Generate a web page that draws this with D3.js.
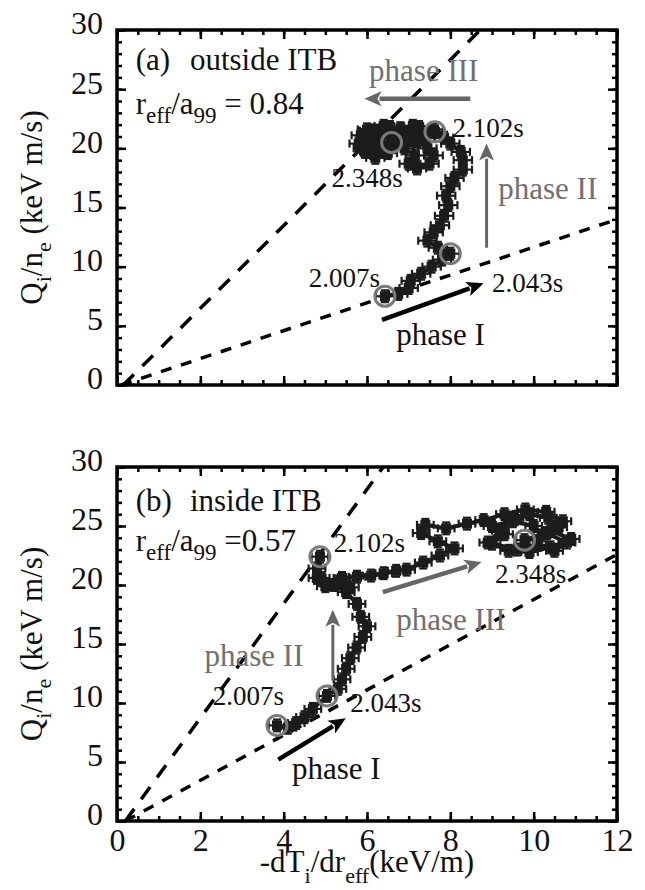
<!DOCTYPE html>
<html>
<head>
<meta charset="utf-8">
<script src="https://cdn.jsdelivr.net/npm/d3@7"></script>
<style>
body { margin: 0; background: #fff; }
text { font-family: "Liberation Serif", "DejaVu Serif", serif; fill: #111; }
</style>
</head>
<body>
<div class="chart"></div>
<script>
var xTicks = [0, 2, 4, 6, 8, 10, 12];
var yTicks = [0, 5, 10, 15, 20, 25, 30];

// panel (a) outside ITB, trajectory in time order
var aGradT = [6.43, 6.75, 7.0, 7.05, 7.3, 7.55, 7.8, 8.0,
  7.7, 7.45, 7.6, 7.75, 7.85, 7.95, 7.9, 8.0, 8.1, 8.3, 8.3, 8.25, 8.0, 7.85, 7.63,
  7.4, 7.2, 7.45, 7.6, 7.5, 7.2, 7.0, 7.15, 6.9, 6.6, 6.3, 6.0, 5.8, 5.95, 6.2, 6.5,
  6.3, 6.0, 6.4, 6.8, 7.1, 7.3, 7.0, 6.75, 6.4, 6.1, 5.85, 6.05, 6.35, 6.7, 7.05, 7.4,
  7.6, 7.25, 6.95, 6.55, 6.2, 5.9, 6.15, 6.45, 6.59];
var aFlux = [7.5, 7.7, 8.2, 8.8, 9.4, 10.0, 10.6, 11.1,
  11.6, 12.2, 12.9, 13.5, 14.3, 15.2, 16.0, 16.8, 17.5, 18.2, 19.0, 19.7, 20.4, 20.9, 21.4,
  21.1, 20.6, 20.0, 19.4, 18.7, 18.3, 18.7, 19.4, 20.0, 20.9, 21.3, 21.0, 20.4, 19.7, 19.2, 19.6,
  20.3, 21.6, 21.9, 21.7, 21.9, 21.4, 21.1, 20.6, 20.1, 20.4, 21.1, 21.5, 21.2, 21.0, 20.7, 20.9,
  21.6, 21.8, 21.3, 21.8, 21.5, 20.0, 19.6, 20.0, 20.5];
var aErrT = 0.22, aErrQ = 0.5;
var aTimes = ["2.007s", "2.043s", "2.102s", "2.348s"];
var aTimeGradT = [6.43, 8.0, 7.63, 6.59];
var aTimeFlux = [7.5, 11.1, 21.4, 20.5];
var aGuides = [[[0.15, 0], [8.72, 30]], [[0.1, 0], [12, 14]]];

// panel (b) inside ITB
var bGradT = [3.84, 4.1, 4.3, 4.5, 4.7, 5.04,
  5.3, 5.4, 5.5, 5.6, 5.75, 5.9, 6.0, 5.85, 5.76, 5.5, 5.2, 4.9, 4.8, 4.87,
  4.8, 5.0, 5.3, 5.6, 5.4, 5.76, 6.1, 6.4, 6.7, 6.95, 7.35, 7.75, 8.1, 7.7, 7.3, 7.4,
  7.9, 8.4, 8.8, 9.3, 9.8, 10.3, 10.7, 10.4, 10.9, 10.4, 9.9, 9.4, 9.0, 9.3, 9.0, 9.5,
  10.0, 10.2, 10.6, 10.35, 9.9, 9.55, 9.2, 8.9, 9.6, 10.1, 10.5, 10.8, 10.3, 9.78];
var bFlux = [8.1, 7.9, 8.3, 8.8, 9.5, 10.6,
  11.2, 12.0, 12.9, 13.8, 14.7, 15.6, 16.5, 17.3, 18.4, 19.4, 20.0, 20.6, 21.4, 22.4,
  20.6, 19.9, 20.3, 19.8, 20.6, 20.7, 20.8, 21.0, 21.2, 21.3, 21.9, 22.5, 23.1, 23.7, 24.4, 25.1,
  24.8, 25.2, 25.5, 26.0, 26.4, 26.2, 25.4, 24.6, 23.9, 23.2, 22.8, 22.9, 23.5, 24.3, 25.0, 25.4,
  25.0, 24.2, 24.9, 25.7, 26.0, 25.6, 24.6, 23.6, 23.0, 23.4, 22.9, 23.6, 24.4, 23.8];
var bErrT = 0.2, bErrQ = 0.5;
var bTimes = ["2.007s", "2.043s", "2.102s", "2.348s"];
var bTimeGradT = [3.84, 5.04, 4.87, 9.78];
var bTimeFlux = [8.1, 10.6, 22.4, 23.8];
var bGuides = [[[0.2, 0], [6.39, 30]], [[0.2, 0], [12, 22.6]]];

var W = 645, H = 890;
var svg = d3.select(".chart").append("svg").attr("width", W).attr("height", H);

var xS = d3.scaleLinear().domain([0, 12]).range([117, 617]);

var panels = [
  { top: 30, bottom: 385, gx: aGradT, gy: aFlux, ex: aErrT, ey: aErrQ,
    times: aTimes, tx: aTimeGradT, ty: aTimeFlux, guides: aGuides, xLabels: false,
    timePos: [[4.6, 8.3], [9.0, 7.85], [8.05, 21.0], [5.15, 16.7]],
    tag: "(a)", where: "outside ITB", ratio: " = 0.84",
    tagPos: [0.45, 26.6], wherePos: [1.75, 26.6], ratioPos: [0.45, 22.9],
    arrows: [
      { from: [6.36, 5.5], to: [8.8, 8.6], color: "#000", w: 4.5 },
      { from: [8.87, 11.6], to: [8.87, 20.4], color: "#666", w: 3 },
      { from: [8.48, 24.2], to: [5.94, 24.2], color: "#666", w: 4.5 }
    ],
    phases: [
      { t: "phase I", at: [6.7, 3.4], color: "#111" },
      { t: "phase II", at: [9.15, 15.7], color: "#707070" },
      { t: "phase III", at: [6.05, 25.7], color: "#707070" }
    ] },
  { top: 467, bottom: 821, gx: bGradT, gy: bFlux, ex: bErrT, ey: bErrQ,
    times: bTimes, tx: bTimeGradT, ty: bTimeFlux, guides: bGuides, xLabels: true,
    timePos: [[2.3, 9.8], [5.6, 9.2], [5.2, 22.8], [9.07, 20.2]],
    tag: "(b)", where: "inside ITB", ratio: " =0.57",
    tagPos: [0.45, 26.3], wherePos: [1.75, 26.3], ratioPos: [0.45, 22.9],
    arrows: [
      { from: [3.87, 5.2], to: [5.49, 8.7], color: "#000", w: 4.5 },
      { from: [5.18, 11.9], to: [5.18, 17.9], color: "#666", w: 3 },
      { from: [6.38, 19.4], to: [8.75, 21.95], color: "#666", w: 4.5 }
    ],
    phases: [
      { t: "phase II", at: [2.1, 13.1], color: "#707070" },
      { t: "phase III", at: [6.7, 16.2], color: "#707070" },
      { t: "phase I", at: [4.2, 3.6], color: "#111" }
    ] }
];

function arrow(g, x1, y1, x2, y2, color, w) {
  var dx = x2 - x1, dy = y2 - y1, len = Math.sqrt(dx * dx + dy * dy);
  var ux = dx / len, uy = dy / len;
  var hl = 17, hw = 7.5;
  var bx = x2 - ux * hl, by = y2 - uy * hl;
  g.append("line")
    .attr("x1", x1).attr("y1", y1).attr("x2", bx + ux * 2).attr("y2", by + uy * 2)
    .attr("stroke", color).attr("stroke-width", w);
  g.append("path")
    .attr("d", "M" + x2 + "," + y2 +
      "L" + (bx - uy * hw) + "," + (by + ux * hw) +
      "L" + (bx + ux * 4) + "," + (by + uy * 4) +
      "L" + (bx + uy * hw) + "," + (by - ux * hw) + "Z")
    .attr("fill", color);
}

panels.forEach(function(p) {
  var yS = d3.scaleLinear().domain([0, 30]).range([p.bottom, p.top]);
  var g = svg.append("g");

  // dashed guide lines
  p.guides.forEach(function(gd, i) {
    g.append("line")
      .attr("x1", xS(gd[0][0])).attr("y1", yS(gd[0][1]))
      .attr("x2", xS(gd[1][0])).attr("y2", yS(gd[1][1]))
      .attr("stroke", "#000").attr("stroke-width", 3.5)
      .attr("stroke-dasharray", i === 0 ? "15,12" : "11,10");
  });

  // trajectory
  var pts = p.gx.map(function(v, i) { return [v, p.gy[i]]; });
  var line = d3.line().x(function(d) { return xS(d[0]); }).y(function(d) { return yS(d[1]); });
  g.append("path").datum(pts).attr("d", line)
    .attr("fill", "none").attr("stroke", "#1c1c1c").attr("stroke-width", 4);

  var eb = g.append("g").attr("stroke", "#1c1c1c").attr("stroke-width", 2.2);
  pts.forEach(function(d) {
    var cx = xS(d[0]), cy = yS(d[1]);
    var xl = xS(d[0] - p.ex), xr = xS(d[0] + p.ex);
    var yt = yS(d[1] + p.ey), yb = yS(d[1] - p.ey);
    eb.append("line").attr("x1", xl).attr("x2", xr).attr("y1", cy).attr("y2", cy);
    eb.append("line").attr("x1", xl).attr("x2", xl).attr("y1", cy - 4).attr("y2", cy + 4);
    eb.append("line").attr("x1", xr).attr("x2", xr).attr("y1", cy - 4).attr("y2", cy + 4);
    eb.append("line").attr("x1", cx).attr("x2", cx).attr("y1", yt).attr("y2", yb);
    eb.append("line").attr("x1", cx - 4).attr("x2", cx + 4).attr("y1", yt).attr("y2", yt);
    eb.append("line").attr("x1", cx - 4).attr("x2", cx + 4).attr("y1", yb).attr("y2", yb);
  });
  g.selectAll("rect.pt").data(pts).enter().append("rect")
    .attr("class", "pt")
    .attr("x", function(d) { return xS(d[0]) - 5; })
    .attr("y", function(d) { return yS(d[1]) - 5; })
    .attr("width", 10).attr("height", 10)
    .attr("fill", "#1c1c1c");

  // time markers
  p.tx.forEach(function(v, i) {
    g.append("circle")
      .attr("cx", xS(v)).attr("cy", yS(p.ty[i])).attr("r", 10)
      .attr("fill", "none").attr("stroke", "#7a7a7a").attr("stroke-width", 3);
    g.append("text")
      .attr("x", xS(p.timePos[i][0])).attr("y", yS(p.timePos[i][1]))
      .style("font-size", "27px")
      .text(p.times[i]);
  });

  // phase arrows and labels
  p.arrows.forEach(function(a) {
    arrow(g, xS(a.from[0]), yS(a.from[1]), xS(a.to[0]), yS(a.to[1]), a.color, a.w);
  });
  p.phases.forEach(function(ph) {
    g.append("text")
      .attr("x", xS(ph.at[0])).attr("y", yS(ph.at[1]))
      .style("font-size", "31px").style("fill", ph.color)
      .text(ph.t);
  });

  // panel tags
  g.append("text").attr("x", xS(p.tagPos[0])).attr("y", yS(p.tagPos[1]))
    .style("font-size", "31px").text(p.tag);
  g.append("text").attr("x", xS(p.wherePos[0])).attr("y", yS(p.wherePos[1]))
    .style("font-size", "31px").text(p.where);
  var r = g.append("text").attr("x", xS(p.ratioPos[0])).attr("y", yS(p.ratioPos[1]))
    .style("font-size", "31px");
  r.append("tspan").text("r");
  r.append("tspan").attr("dy", 9).style("font-size", "23px").text("eff");
  r.append("tspan").attr("dy", -9).text("/a");
  r.append("tspan").attr("dy", 9).style("font-size", "23px").text("99");
  r.append("tspan").attr("dy", -9).text(p.ratio);

  // axes with inward ticks
  var minorX = d3.range(0, 12.01, 0.5);
  var minorY = d3.range(0, 30.01, 1);
  g.append("g").attr("transform", "translate(0," + p.bottom + ")")
    .call(d3.axisBottom(xS).tickValues(minorX).tickSize(-5).tickFormat(""));
  g.append("g").attr("transform", "translate(0," + p.bottom + ")")
    .call(d3.axisBottom(xS).tickValues(xTicks).tickSize(-9).tickPadding(7)
      .tickFormat(p.xLabels ? d3.format("d") : ""));
  g.append("g").attr("transform", "translate(0," + p.top + ")")
    .call(d3.axisTop(xS).tickValues(minorX).tickSize(-5).tickFormat(""));
  g.append("g").attr("transform", "translate(0," + p.top + ")")
    .call(d3.axisTop(xS).tickValues(xTicks).tickSize(-9).tickFormat(""));
  g.append("g").attr("transform", "translate(117,0)")
    .call(d3.axisLeft(yS).tickValues(minorY).tickSize(-5).tickFormat(""));
  var axL = g.append("g").attr("transform", "translate(117,0)")
    .call(d3.axisLeft(yS).tickValues(yTicks).tickSize(-9).tickPadding(14));
  g.append("g").attr("transform", "translate(617,0)")
    .call(d3.axisRight(yS).tickValues(minorY).tickSize(-5).tickFormat(""));
  g.append("g").attr("transform", "translate(617,0)")
    .call(d3.axisRight(yS).tickValues(yTicks).tickSize(-9).tickFormat(""));

  g.selectAll(".domain").remove();
  g.selectAll(".tick line").attr("stroke", "#000").attr("stroke-width", 2.5);
  g.selectAll(".tick text").style("font-size", "32px").attr("fill", "#111")
    .style("font-family", "'Liberation Serif', serif");
  axL.selectAll(".tick text").attr("dy", "0.12em");

  g.append("rect")
    .attr("x", 117).attr("y", p.top)
    .attr("width", 500).attr("height", p.bottom - p.top)
    .attr("fill", "none").attr("stroke", "#000").attr("stroke-width", 3.5);

  // y title
  var yt = g.append("text")
    .attr("transform", "translate(42," + ((p.top + p.bottom) / 2) + ") rotate(-90)")
    .attr("text-anchor", "middle")
    .style("font-size", "31px");
  yt.append("tspan").text("Q");
  yt.append("tspan").attr("dy", 9).style("font-size", "22px").text("i");
  yt.append("tspan").attr("dy", -9).text("/n");
  yt.append("tspan").attr("dy", 9).style("font-size", "22px").text("e");
  yt.append("tspan").attr("dy", -9).text(" (keV m/s)");
});

// x title
var xt = svg.append("text")
  .attr("x", 367).attr("y", 872)
  .attr("text-anchor", "middle")
  .style("font-size", "31px");
xt.append("tspan").text("-dT");
xt.append("tspan").attr("dy", 11).style("font-size", "22px").text("i");
xt.append("tspan").attr("dy", -11).text("/dr");
xt.append("tspan").attr("dy", 11).style("font-size", "22px").text("eff");
xt.append("tspan").attr("dy", -11).text("(keV/m)");
</script>
</body>
</html>
